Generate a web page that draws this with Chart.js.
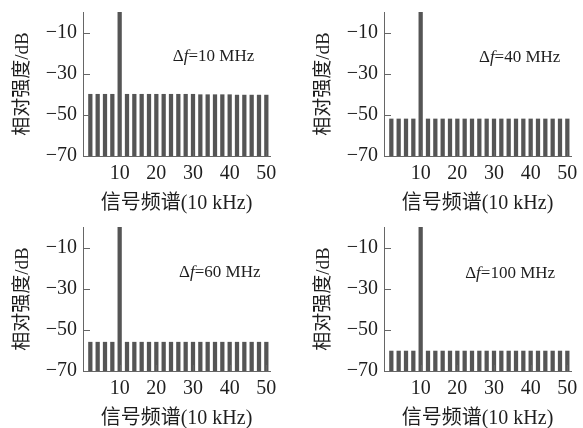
<!DOCTYPE html>
<html><head><meta charset="utf-8">
<script src="https://cdn.jsdelivr.net/npm/chart.js@4.4.1/dist/chart.umd.min.js"></script>
<style>
html,body{margin:0;padding:0;background:#fff;width:583px;height:428px;overflow:hidden;}
.p{position:absolute;width:291px;height:214px;}
canvas{display:block;}
</style></head><body>
<div class="p" style="left:0;top:0"><canvas id="c1" width="291" height="214"></canvas></div>
<div class="p" style="left:301px;top:0"><canvas id="c2" width="291" height="214"></canvas></div>
<div class="p" style="left:0;top:215px"><canvas id="c3" width="291" height="214"></canvas></div>
<div class="p" style="left:301px;top:215px"><canvas id="c4" width="291" height="214"></canvas></div>
<script>
// signal spectrum positions (units of 10 kHz)
const freqs = [2,4,6,8,10,12,14,16,18,20,22,24,26,28,30,32,34,36,38,40,42,44,46,48,50];
// relative intensity (dB) for each frequency offset
const level10MHz  = [-40,-40,-40,-40,0,-40,-40,-40,-40,-40,-40,-40,-40,-40,-40,-40.2,-40.2,-40.2,-40.2,-40.2,-40.4,-40.4,-40.4,-40.4,-40.4];
const level40MHz  = [-52,-52,-52,-52,0,-52,-52,-52,-52,-52,-52,-52,-52,-52,-52,-52,-52,-52,-52,-52,-52,-52,-52,-52,-52];
const level60MHz  = [-56,-56,-56,-56,0,-56,-56,-56,-56,-56,-56,-56,-56,-56,-56,-56,-56,-56,-56,-56,-56,-56,-56,-56,-56];
const level100MHz = [-60.3,-60.3,-60.3,-60.3,0,-60.3,-60.3,-60.3,-60.3,-60.3,-60.3,-60.3,-60.3,-60.3,-60.3,-60.3,-60.3,-60.3,-60.3,-60.3,-60.3,-60.3,-60.3,-60.3,-60.3];
const yTicks = [-70,-50,-30,-10];
const xTicks = [10,20,30,40,50];
const panelLabels = ['10 MHz','40 MHz','60 MHz','100 MHz'];
const xTitle = '信号频谱(10 kHz)';
const yTitle = '相对强度/dB';

const Y_MIN = -70, Y_MAX = 0, X_MIN = 0, X_MAX = 51;
const SERIF = '"Liberation Serif","Times New Roman","Noto Sans CJK SC",serif';
const TEXT = '#1e1e1e';
const AXIS = '#666';

const inwardTicks = {
  id:'inwardTicks',
  afterDraw(chart){
    const ctx = chart.ctx, a = chart.chartArea;
    const xs = chart.scales.x, ys = chart.scales.y;
    ctx.save();
    ctx.strokeStyle = AXIS; ctx.lineWidth = 1;
    ctx.beginPath();
    xs.ticks.forEach(t=>{ const p = Math.round(xs.getPixelForValue(t.value))+0.5; ctx.moveTo(p, a.bottom); ctx.lineTo(p, a.bottom-6); });
    ys.ticks.forEach(t=>{ const p = Math.round(ys.getPixelForValue(t.value))+0.5; ctx.moveTo(a.left, p); ctx.lineTo(a.left+7, p); });
    ctx.stroke();
    ctx.restore();
  }
};

const annotation = {
  id:'annotation',
  afterDraw(chart, args, opts){
    const ctx = chart.ctx;
    const cx = chart.scales.x.getPixelForValue(opts.x);
    const cy = chart.scales.y.getPixelForValue(opts.y);
    const parts = [['Δ','normal'],['f','italic'],['='+opts.text,'normal']];
    ctx.save();
    ctx.fillStyle = TEXT; ctx.textBaseline = 'middle'; ctx.textAlign = 'left';
    let total = 0;
    const widths = parts.map(([s,st])=>{ ctx.font = st+' 17px '+SERIF; const w = ctx.measureText(s).width; total += w; return w; });
    let x = cx - total/2;
    parts.forEach(([s,st],i)=>{ ctx.font = st+' 17px '+SERIF; ctx.fillText(s, x, cy); x += widths[i]; });
    ctx.restore();
  }
};

function makeChart(id, values, label, ax, ay){
  new Chart(document.getElementById(id), {
    type:'bar',
    data:{datasets:[{
      data: freqs.map((f,i)=>({x:f, y:[Y_MIN, values[i]]})),
      backgroundColor:'#555555', borderWidth:0, barThickness:3.6
    }]},
    options:{
      responsive:false, animation:false, devicePixelRatio:1,
      layout:{padding:{left:0,right:21,top:12,bottom:0}},
      plugins:{legend:{display:false}, tooltip:{enabled:false},
        annotation:{x:ax, y:ay, text:label}},
      scales:{
        x:{type:'linear', min:X_MIN, max:X_MAX, offset:false,
          afterBuildTicks:s=>{ s.ticks = xTicks.map(v=>({value:v})); },
          afterFit:s=>{ s.height = 58; s.paddingLeft = 0; s.paddingRight = 0; },
          grid:{display:false, drawTicks:false},
          border:{display:true, color:AXIS, width:1},
          ticks:{padding:6, font:{family:SERIF, size:20}, color:TEXT, maxRotation:0, autoSkip:false},
          title:{display:true, text:xTitle, font:{family:SERIF, size:20}, color:TEXT, padding:{top:0,bottom:-1.5}}
        },
        y:{type:'linear', min:Y_MIN, max:Y_MAX,
          afterBuildTicks:s=>{ s.ticks = yTicks.map(v=>({value:v})); },
          afterFit:s=>{ s.width = 83; s.paddingTop = 0; s.paddingBottom = 0; },
          grid:{display:false, drawTicks:false},
          border:{display:true, color:AXIS, width:1},
          ticks:{padding:6, font:{family:SERIF, size:20}, color:TEXT,
            callback:v=>(v<0?'\u2212':'')+Math.abs(v)},
          title:{display:true, text:yTitle, font:{family:SERIF, size:19}, color:TEXT, padding:{top:11.5,bottom:0}}
        }
      }
    },
    plugins:[inwardTicks, annotation]
  });
}

makeChart('c1', level10MHz,  panelLabels[0], 35.6, -21.6);
makeChart('c2', level40MHz,  panelLabels[1], 37.0, -22.2);
makeChart('c3', level60MHz,  panelLabels[2], 37.3, -22.2);
makeChart('c4', level100MHz, panelLabels[3], 34.4, -22.4);
</script>
</body></html>
